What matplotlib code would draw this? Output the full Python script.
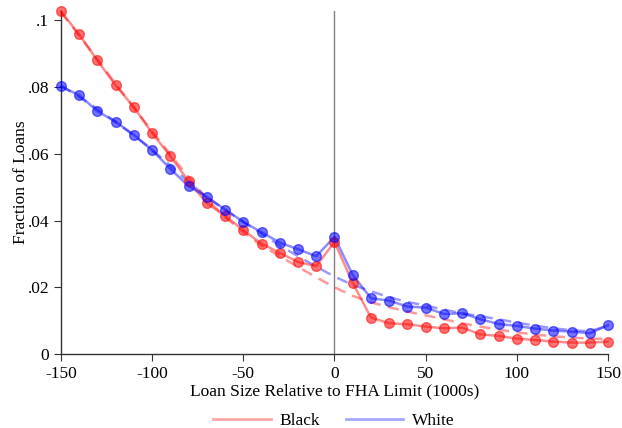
import numpy as np
import matplotlib.pyplot as plt
from matplotlib.lines import Line2D

plt.rcParams['font.family'] = ['Liberation Serif', 'DejaVu Serif']
plt.rcParams['axes.unicode_minus'] = False

# loan size bins relative to FHA limit (1000s)
bins = list(range(-150, 151, 10))

# observed fraction of loans
black = [0.1027, 0.0958, 0.0880, 0.0805, 0.0740, 0.0662, 0.0593, 0.0518, 0.0452, 0.0414,
         0.0371, 0.0331, 0.0303, 0.0276, 0.0263, 0.0336, 0.0213, 0.0109, 0.0092, 0.0089,
         0.0082, 0.0077, 0.0079, 0.0059, 0.0054, 0.0046, 0.0042, 0.0037, 0.0034, 0.0034,
         0.0037]
white = [0.0802, 0.0776, 0.0728, 0.0696, 0.0657, 0.0611, 0.0555, 0.0503, 0.0471, 0.0433,
         0.0396, 0.0365, 0.0334, 0.0314, 0.0293, 0.0351, 0.0237, 0.0167, 0.0160, 0.0142,
         0.0139, 0.0120, 0.0122, 0.0104, 0.0090, 0.0084, 0.0076, 0.0070, 0.0067, 0.0062,
         0.0086]

# counterfactual (fitted) distributions, dashed
black_fit = [0.1025, 0.0955, 0.0883, 0.0810, 0.0738, 0.0668, 0.0598, 0.0530, 0.0465, 0.0410,
             0.0365, 0.0325, 0.0293, 0.0261, 0.0230, 0.0200, 0.0174, 0.0155, 0.0140, 0.0127,
             0.0116, 0.0104, 0.0092, 0.0082, 0.0073, 0.0065, 0.0058, 0.0053, 0.0049, 0.0046,
             0.0045]
white_fit = [0.0805, 0.0770, 0.0735, 0.0695, 0.0655, 0.0612, 0.0565, 0.0515, 0.0470, 0.0432,
             0.0396, 0.0360, 0.0325, 0.0293, 0.0262, 0.0232, 0.0207, 0.0188, 0.0170, 0.0156,
             0.0145, 0.0133, 0.0122, 0.0113, 0.0104, 0.0094, 0.0085, 0.0077, 0.0071, 0.0068,
             0.0085]

fig = plt.figure(figsize=(6.22, 4.28), dpi=100)
ax = fig.add_axes([0.098, 0.173, 0.8795, 0.801])

# vertical line at the FHA limit
ax.axvline(0, color='#808080', lw=1.0, zorder=1)

for y, yfit, c in [(black, black_fit, 'red'), (white, white_fit, 'blue')]:
    ax.plot(bins, yfit, color=c, lw=1.8, alpha=0.4, ls=(0, (4.5, 3)), clip_on=False, zorder=2)
    ax.plot(bins, y, color=c, lw=1.8, alpha=0.45, clip_on=False, zorder=3)
    ax.plot(bins, y, ls='none', marker='o', ms=7, mfc=c, mec=c, mew=1.0, alpha=0.55,
            clip_on=False, zorder=4)

ax.set_xlim(-150, 150)
ax.set_ylim(0, 0.1028)
ax.set_xticks([-150, -100, -50, 0, 50, 100, 150])
ax.set_yticks([0, 0.02, 0.04, 0.06, 0.08, 0.1])
ax.set_yticklabels(['0', '.02', '.04', '.06', '.08', '.1'])
ax.tick_params(labelsize=12.5, length=5, color='#333333', direction='out')

for s in ['top', 'right']:
    ax.spines[s].set_visible(False)
for s in ['left', 'bottom']:
    ax.spines[s].set_color('#333333')
    ax.spines[s].set_linewidth(1.0)

ax.set_xlabel('Loan Size Relative to FHA Limit (1000s)', fontsize=12.5, labelpad=1)
ax.set_ylabel('Fraction of Loans', fontsize=12.5, labelpad=-1)

handles = [Line2D([], [], color='red', lw=2, alpha=0.35),
           Line2D([], [], color='blue', lw=2, alpha=0.35)]
fig.legend(handles, ['Black', 'White'], loc='center', bbox_to_anchor=(0.537, 0.016),
           ncol=2, frameon=False, fontsize=12.5, handlelength=3.3, handletextpad=0.5,
           columnspacing=1.5, borderpad=0, borderaxespad=0)

fig.savefig('out.png', dpi=100)
